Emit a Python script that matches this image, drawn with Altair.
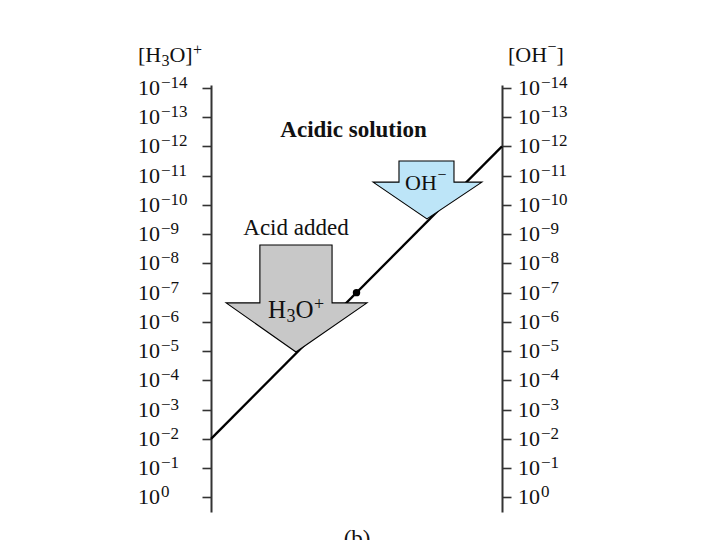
import altair as alt
import pandas as pd

SERIF = "Liberation Serif"
INK = "#111111"
AXIS_INK = "#333333"

# ---- data -------------------------------------------------------------
# tick exponents p, concentration = 10^-p (0 at bottom, 14 at top)
exponents = list(range(0, 15))
exp_labels = ["0"] + ["\u2212" + str(p) for p in range(1, 15)]

# acidic solution: [H3O+] = 10^-2 (left axis) joined to [OH-] = 10^-12 (right axis)
line_f = [0.0, 1.0]
line_p = [2.0, 12.0]

# neutral point, 10^-7 on both scales
neutral_f = [0.5]
neutral_p = [7.0]

# block-arrow outlines (f = fraction across, p = -log10 concentration)
acid_arrow_f = [0.168, 0.416, 0.416, 0.536, 0.292, 0.052, 0.168]
acid_arrow_p = [8.63, 8.63, 6.65, 6.65, 4.97, 6.65, 6.65]
oh_arrow_f = [0.646, 0.835, 0.835, 0.931, 0.742, 0.557, 0.646]
oh_arrow_p = [11.50, 11.50, 10.78, 10.78, 9.52, 10.78, 10.78]

X_SCALE = alt.Scale(domain=[0, 1], nice=False, zero=False)
Y_SCALE = alt.Scale(domain=[-0.5, 14.1], nice=False, zero=False)


def xy(chart, axis=None):
    return chart.encode(
        x=alt.X("f:Q", scale=X_SCALE, axis=None),
        y=alt.Y("p:Q", scale=Y_SCALE, axis=axis),
    )


def axis(orient):
    return alt.Axis(
        orient=orient, values=exponents, labels=False, title=None, grid=False,
        ticks=True, tickSize=9, tickWidth=1.6, tickColor=AXIS_INK,
        domain=True, domainColor=AXIS_INK, domainWidth=2,
    )


layers = []

# ---- axes with "10^-p" labels -----------------------------------------
for side, f0, orient, dx_base, dx_exp in [
    ("left", 0.0, "left", -73, -50),
    ("right", 1.0, "right", 16, 39),
]:
    df = pd.DataFrame({"f": [f0] * len(exponents), "p": exponents,
                       "base": ["10"] * len(exponents), "exp": exp_labels})
    base = xy(alt.Chart(df).mark_text(font=SERIF, fontSize=22, align="left",
                                      baseline="alphabetic", dx=dx_base, dy=7,
                                      color=INK), axis(orient)).encode(text="base:N")
    expo = xy(alt.Chart(df).mark_text(font=SERIF, fontSize=17, align="left",
                                      baseline="alphabetic", dx=dx_exp, dy=0,
                                      color=INK)).encode(text="exp:N")
    layers += [base, expo]


def rich(f, p, pieces, color=INK):
    out = []
    for text, size, dx, dy, weight in pieces:
        d = pd.DataFrame({"f": [f], "p": [p], "t": [text]})
        out.append(xy(alt.Chart(d).mark_text(font=SERIF, fontSize=size, fontWeight=weight,
                                             align="left", baseline="alphabetic",
                                             dx=dx, dy=dy, color=color)).encode(text="t:N"))
    return out


# ---- line, neutral point, arrows ----------------------------------------
line_df = pd.DataFrame({"f": line_f, "p": line_p})
layers.append(xy(alt.Chart(line_df).mark_line(color="black", strokeWidth=2.3)))

dot_df = pd.DataFrame({"f": neutral_f, "p": neutral_p})
layers.append(xy(alt.Chart(dot_df).mark_circle(color="black", size=55, opacity=1)))

for fs, ps, fill in [(acid_arrow_f, acid_arrow_p, "#c8c8c8"),
                     (oh_arrow_f, oh_arrow_p, "#bde5f8")]:
    d = pd.DataFrame({"f": fs, "p": ps, "i": list(range(len(fs)))})
    layers.append(xy(alt.Chart(d).mark_line(interpolate="linear-closed", fill=fill,
                                            stroke="black", strokeWidth=1.1,
                                            strokeJoin="miter"))
                  .encode(order="i:Q"))

# ---- text annotations ---------------------------------------------------
# axis titles  [H3O]+  and  [OH-]
layers += rich(-0.251, 14.886, [("[H", 22, 0, 0, "normal"), ("3", 16, 23.5, 4, "normal"),
                               ("O]", 22, 31.5, 0, "normal"), ("+", 16, 55, -7, "normal")])
layers += rich(1.0206, 14.886, [("[OH", 22, 0, 0, "normal"), ("\u2212", 16, 39.5, -10, "normal"),
                               ("]", 22, 48.5, 0, "normal")])

# arrow labels
layers += rich(0.196, 6.133, [("H", 25, 0, 0, "normal"), ("3", 18, 18.5, 4, "normal"),
                             ("O", 25, 27.5, 0, "normal"), ("+", 18, 46, -8, "normal")])
layers += rich(0.667, 10.51, [("OH", 22, 0, 0, "normal"), ("\u2212", 16, 32.5, -10, "normal")])

centered = pd.DataFrame({
    "f": [0.4897, 0.292, 0.502],
    "p": [12.33, 8.97, -1.66],
    "t": ["Acidic solution", "Acid added", "(b)"],
    "w": ["bold", "normal", "normal"],
})
for _, r in centered.iterrows():
    d = pd.DataFrame([r])
    layers.append(xy(alt.Chart(d).mark_text(font=SERIF, fontSize=23, fontWeight=r["w"],
                                            align="center", baseline="alphabetic",
                                            color=INK)).encode(text="t:N"))

chart = (
    alt.layer(*layers)
    .resolve_scale(y="independent")
    .properties(
        width=291, height=427,
        autosize=alt.AutoSizeParams(type="none"),
        padding={"left": 203, "top": 77, "right": 210, "bottom": 40},
        background="white",
    )
    .configure_view(stroke=None)
)

chart.save("out.html", embed_options={"renderer": "svg", "actions": False})
